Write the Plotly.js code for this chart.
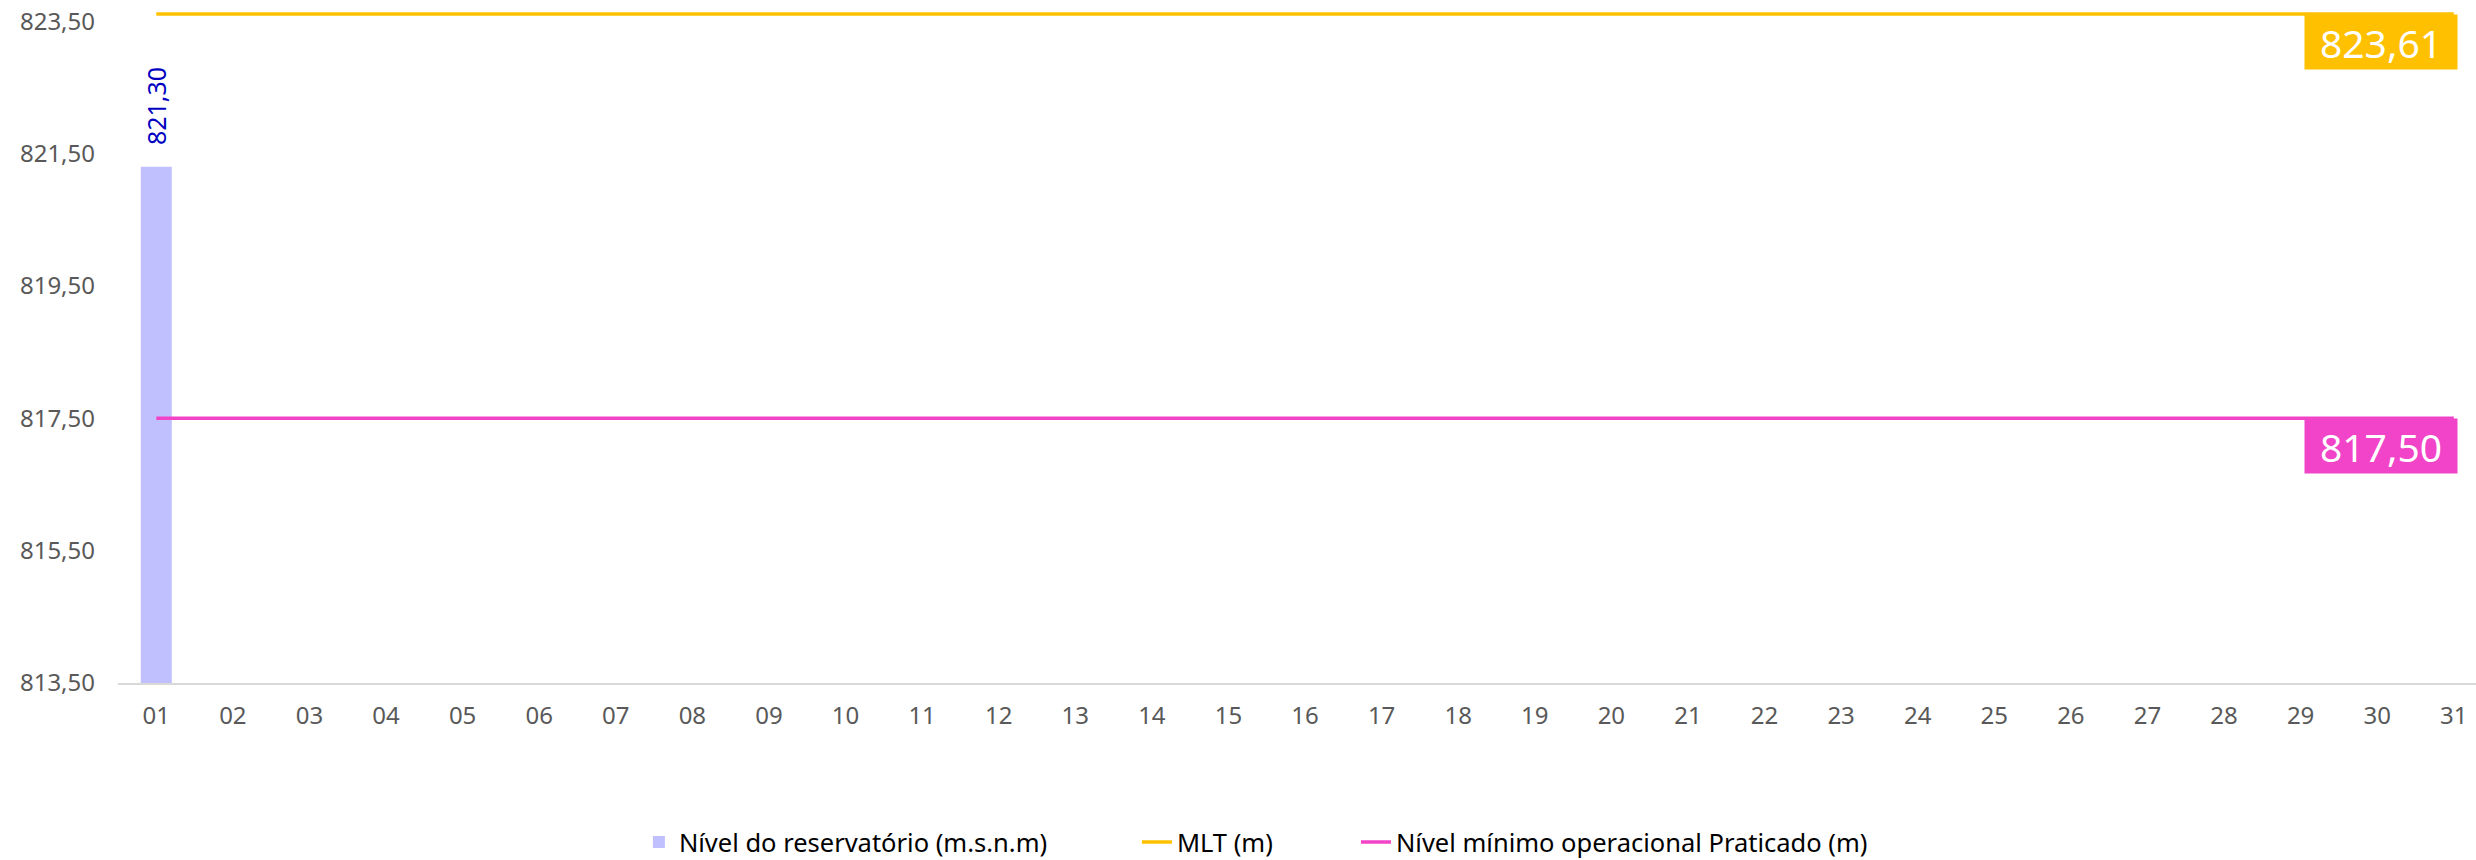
<!DOCTYPE html>
<html>
<head>
<meta charset="utf-8">
<script src="https://cdn.plot.ly/plotly-3.0.1.min.js"></script>
<style>html,body{margin:0;padding:0;background:#fff;}#chart{width:2476px;height:860px;}</style>
</head>
<body>
<div id="chart"></div>
<script>
const days = ["01","02","03","04","05","06","07","08","09","10","11","12","13","14","15","16","17","18","19","20","21","22","23","24","25","26","27","28","29","30","31"];
const nivel = [821.30,null,null,null,null,null,null,null,null,null,null,null,null,null,null,null,null,null,null,null,null,null,null,null,null,null,null,null,null,null,null];
const mlt = [823.61,823.61,823.61,823.61,823.61,823.61,823.61,823.61,823.61,823.61,823.61,823.61,823.61,823.61,823.61,823.61,823.61,823.61,823.61,823.61,823.61,823.61,823.61,823.61,823.61,823.61,823.61,823.61,823.61,823.61,823.61];
const minimo = [817.50,817.50,817.50,817.50,817.50,817.50,817.50,817.50,817.50,817.50,817.50,817.50,817.50,817.50,817.50,817.50,817.50,817.50,817.50,817.50,817.50,817.50,817.50,817.50,817.50,817.50,817.50,817.50,817.50,817.50,817.50];
const yTicks = [813.5,815.5,817.5,819.5,821.5,823.5];

const fmt = v => v.toFixed(2).replace('.', ',');
const FONT = "Noto Sans, Open Sans, sans-serif";

const traces = [
  {
    type: 'bar', x: days, y: nivel, name: 'Nível do reservatório (m.s.n.m)',
    marker: {color: '#C0C0FF'}, width: 0.405,
    hoverinfo: 'skip', legend: 'legend'
  },
  {
    type: 'scatter', mode: 'lines', x: days, y: mlt, name: 'MLT (m)',
    line: {color: '#FFC000', width: 3.5}, hoverinfo: 'skip', legend: 'legend2'
  },
  {
    type: 'scatter', mode: 'lines', x: days, y: minimo, name: 'Nível mínimo operacional Praticado (m)',
    line: {color: '#F244C8', width: 3.5}, hoverinfo: 'skip', legend: 'legend3'
  }
];

const last = days.length - 1;
const annotations = [];
[{series: mlt, color: '#FFC000'}, {series: minimo, color: '#F244C8'}].forEach(s => {
  annotations.push({
    x: last, y: s.series[last], xref: 'x', yref: 'y',
    text: fmt(s.series[last]), showarrow: false,
    xanchor: 'right', yanchor: 'top', xshift: 4,
    width: 144, height: 46, align: 'center', valign: 'middle',
    bgcolor: s.color, borderpad: 4,
    font: {color: '#FFFFFF', size: 39, family: FONT}
  });
});
nivel.forEach((v, i) => {
  if (v == null) return;
  annotations.push({
    x: i, y: v, xref: 'x', yref: 'y', text: fmt(v), showarrow: false,
    textangle: -90, xanchor: 'center', yanchor: 'bottom', yshift: 20,
    font: {color: '#0000C0', size: 25, family: FONT}
  });
});

const legendBase = {
  orientation: 'h', y: -0.2361, yanchor: 'middle', xanchor: 'left',
  font: {size: 25.5, color: '#000000', family: FONT}, bgcolor: 'rgba(0,0,0,0)'
};

const layout = {
  width: 2476, height: 860,
  margin: {l: 118, r: 0, t: 8, b: 176.5, autoexpand: false},
  paper_bgcolor: '#FFFFFF', plot_bgcolor: '#FFFFFF',
  separators: ',.',
  font: {family: FONT, color: '#595959', size: 24},
  showlegend: true,
  xaxis: {
    type: 'category', range: [-0.5, 30.29],
    showgrid: false, zeroline: false,
    showline: true, linecolor: '#D9D9D9', linewidth: 2,
    ticks: '', ticklabelstandoff: 10,
    tickfont: {size: 24, color: '#595959', family: FONT}
  },
  yaxis: {
    range: [813.5, 823.7],
    tickmode: 'array', tickvals: yTicks, ticktext: yTicks.map(fmt),
    showgrid: false, zeroline: false, showline: false, ticks: '',
    ticklabelstandoff: 22,
    tickfont: {size: 24, color: '#595959', family: FONT}
  },
  legend: Object.assign({}, legendBase, {x: 0.2209}),
  legend2: Object.assign({}, legendBase, {x: 0.4321}),
  legend3: Object.assign({}, legendBase, {x: 0.5250}),
  annotations: annotations
};

Plotly.newPlot('chart', traces, layout, {staticPlot: true, displayModeBar: false});
</script>
</body>
</html>
